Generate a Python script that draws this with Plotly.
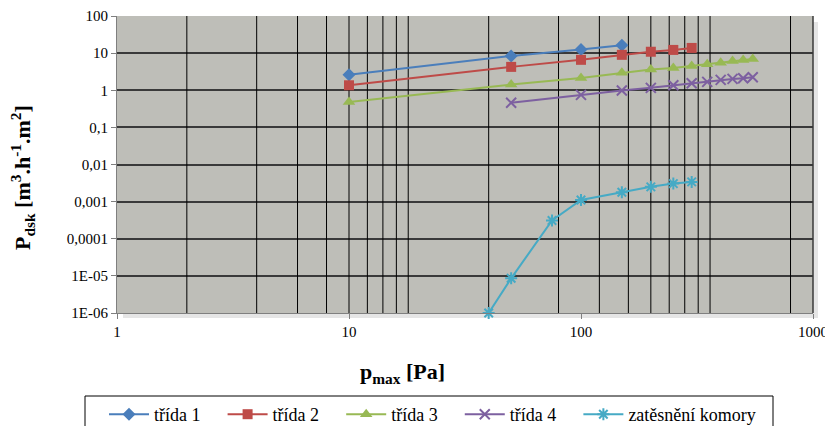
import plotly.graph_objects as go

# ---- data ----
x_t1 = [10, 50, 100, 150]
y_t1 = [2.6, 8.4, 12.6, 16.2]

x_t2 = [10, 50, 100, 150, 200, 250, 300]
y_t2 = [1.36, 4.26, 6.6, 9.0, 10.9, 12.2, 13.8]

x_t3 = [10, 50, 100, 150, 200, 250, 300, 350, 400, 450, 500, 550]
y_t3 = [0.48, 1.42, 2.15, 2.94, 3.6, 4.0, 4.5, 5.0, 5.5, 6.1, 6.5, 6.9]

x_t4 = [50, 100, 150, 200, 250, 300, 350, 400, 450, 500, 550]
y_t4 = [0.46, 0.75, 0.98, 1.16, 1.36, 1.55, 1.68, 1.9, 2.02, 2.11, 2.25]

x_z = [40, 50, 75, 100, 150, 200, 250, 300]
y_z = [1.0e-6, 8.6e-6, 3.1e-4, 1.11e-3, 1.78e-3, 2.5e-3, 3.06e-3, 3.4e-3]

series_names = ["třída 1", "třída 2", "třída 3", "třída 4", "zatěsnění komory"]

x_tickvals = [1, 10, 100, 1000]
x_ticktext = ["1", "10", "100", "1000"]
y_tickvals = [1e-6, 1e-5, 1e-4, 1e-3, 1e-2, 1e-1, 1, 10, 100]
y_ticktext = ["1E-06", "1E-05", "0,0001", "0,001", "0,01", "0,1", "1", "10", "100"]

# vertical grid lines as drawn in the original chart
x_grid = [2, 4, 6, 8, 10, 12, 14, 16, 18, 40, 80, 120, 160, 200, 240, 280, 320, 360, 800]

SERIF = "Liberation Serif, Times New Roman, Times, serif"
PAD = "\u00a0\u00a0\u00a0\u2009"  # spacing between legend entries

fig = go.Figure()

# vertical grid lines
gx, gy = [], []
for v in x_grid:
    gx += [v, v, None]
    gy += [1e-6, 100, None]
fig.add_trace(go.Scatter(x=gx, y=gy, mode="lines", line=dict(color="#000000", width=1),
                         showlegend=False, hoverinfo="skip"))

styles = [
    (x_t1, y_t1, "#4A7EBB", "diamond", 10, None),
    (x_t2, y_t2, "#BE4B48", "square", 10, None),
    (x_t3, y_t3, "#98B954", "triangle-up", 11, None),
    (x_t4, y_t4, "#7D60A0", "x-thin-open", 10, 2),
    (x_z, y_z, "#46AAC5", "asterisk-open", 10, 2),
]
for i, ((xs, ys, col, sym, sz, lw), name) in enumerate(zip(styles, series_names)):
    marker = dict(symbol=sym, size=sz, color=col)
    if lw:
        marker["line"] = dict(color=col, width=lw)
    label = name + (PAD if i < len(series_names) - 1 else "")
    fig.add_trace(go.Scatter(x=xs, y=ys, mode="lines+markers", name=label, cliponaxis=False,
                             line=dict(color=col, width=2), marker=marker))

# page has an 8px body margin: plot area in page pixels is x 117..813, y 16..313
PW, PH = 696, 297


def px(x):
    return (x - 117) / PW


def py(y):
    return (313 - y) / PH


fig.update_layout(
    width=833, height=426,
    margin=dict(l=109, r=28, t=8, b=121, autoexpand=False),
    paper_bgcolor="white",
    plot_bgcolor="rgb(190,190,184)",
    font=dict(family=SERIF, size=13, color="black"),
    showlegend=True,
    legend=dict(
        orientation="h", x=px(104), xanchor="left", y=py(396), yanchor="top",
        borderwidth=0, bgcolor="rgba(0,0,0,0)",
        font=dict(family=SERIF, size=18, color="black"),
        itemwidth=40, tracegroupgap=0,
    ),
    shapes=[
        # soft shadow to the right and below the plot area
        dict(type="rect", xref="paper", yref="paper", x0=1, x1=px(818), y0=py(318), y1=py(22),
             fillcolor="rgba(0,0,0,0.10)", line=dict(width=0), layer="below"),
        dict(type="rect", xref="paper", yref="paper", x0=px(123), x1=1, y0=py(318), y1=0,
             fillcolor="rgba(0,0,0,0.10)", line=dict(width=0), layer="below"),
        # right border of plot area
        dict(type="line", xref="paper", yref="paper", x0=1, x1=1, y0=0, y1=1,
             line=dict(color="#3A3A3A", width=1.5)),
        # legend frame
        dict(type="rect", xref="paper", yref="paper", x0=px(85), x1=px(773), y0=py(440), y1=py(396),
             fillcolor="rgba(0,0,0,0)", line=dict(color="black", width=1)),
    ],
    annotations=[
        dict(text="<b>p<sub>max</sub> [Pa]</b>", xref="paper", yref="paper",
             x=px(402), y=py(373), xanchor="center", yanchor="middle",
             showarrow=False, font=dict(family=SERIF, size=22, color="black")),
        dict(text="<b>P<sub>dsk</sub> [m<sup>3</sup>.h<sup>-1</sup>.m<sup>2</sup>]</b>",
             xref="paper", yref="paper", textangle=-90,
             x=px(22), y=py(177), xanchor="center", yanchor="middle",
             showarrow=False, font=dict(family=SERIF, size=22, color="black")),
    ],
)

fig.update_xaxes(
    type="log", range=[0, 3], tickvals=x_tickvals, ticktext=x_ticktext,
    showgrid=False, zeroline=False,
    showline=True, linecolor="#7F7F7F", linewidth=1, mirror=False,
    ticks="outside", ticklen=5, tickcolor="#7F7F7F",
    tickfont=dict(family=SERIF, size=15),
)
fig.update_yaxes(
    type="log", range=[-6, 2], tickvals=y_tickvals, ticktext=y_ticktext,
    showgrid=True, gridcolor="#3A3A3A", gridwidth=1.5, zeroline=False,
    showline=True, linecolor="#7F7F7F", linewidth=1,
    ticks="outside", ticklen=5, tickcolor="#7F7F7F",
    tickfont=dict(family=SERIF, size=15),
)

fig.write_html("out.html")
